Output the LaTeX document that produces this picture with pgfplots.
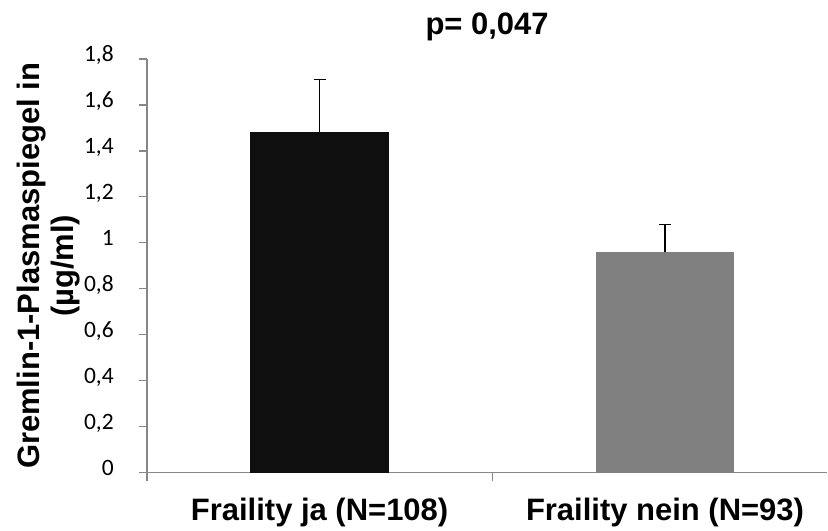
\documentclass[border=0pt]{standalone}
\usepackage{fontspec}
\setmainfont{Liberation Sans}
\newfontfamily\tickfont{Carlito}
\usepackage{pgfplots}
\pgfplotsset{compat=1.18}
\usetikzlibrary{calc}

\definecolor{axisgray}{HTML}{878787}
\definecolor{barblack}{HTML}{0F0F0F}
\definecolor{bargray}{HTML}{808080}

\begin{document}
\begin{tikzpicture}
\begin{axis}[
    name=ax,
    scale only axis,
    width=681pt, height=414pt,
    xmin=-0.5, xmax=1.47,
    ymin=0, ymax=1.8,
    axis lines*=left,
    axis line style={axisgray, line width=1.3pt},
    ybar, bar width=139pt,
    xtick={0,1},
    xticklabels={Fraility ja (N=108), Fraility nein (N=93)},
    minor xtick={-0.5,0.5},
    major x tick style={draw=none},
    minor tick length=8pt,
    major tick length=8pt,
    tick style={axisgray, line width=1.3pt},
    tick align=outside,
    ytick={0,0.2,...,1.8},
    /pgf/number format/.cd, use comma, fixed, assume math mode=true,
    /pgfplots/.cd,
    yticklabel style={font=\fontsize{23.5}{25}\tickfont, anchor=mid east, xshift=-25pt, inner sep=0pt},
    xticklabel style={font=\fontsize{31}{34}\selectfont\bfseries, anchor=base, inner sep=0pt, yshift=-40pt},
    ylabel={Gremlin-1-Plasmaspiegel in\\(µg/ml)},
    ylabel style={font=\fontsize{31}{34}\selectfont\bfseries, align=center, at={(axis description cs:-0.145,0.5)}, anchor=center, rotate=0},
    title={p= 0,047},
    title style={font=\fontsize{31}{34}\selectfont\bfseries, at={(axis description cs:0.5,1)}, anchor=base, yshift=18pt, inner sep=0pt},
    clip=false,
]
\addplot[fill=barblack, draw=none, bar shift=0pt,
    error bars/.cd, y dir=plus, y explicit,
    error bar style={black, line width=1.3pt},
    error mark options={black, rotate=90, mark size=6pt, line width=1.3pt}]
    coordinates {(0,1.48) +- (0,0.23)};
\addplot[fill=bargray, draw=none, bar shift=0pt,
    error bars/.cd, y dir=plus, y explicit,
    error bar style={black, line width=1.3pt},
    error mark options={black, rotate=90, mark size=6pt, line width=1.3pt}]
    coordinates {(1,0.96) +- (0,0.12)};
\end{axis}
\path[use as bounding box] ($(ax.south west)+(-147pt,-58pt)$) rectangle ($(ax.south west)+(681pt,473pt)$);
\end{tikzpicture}
\end{document}
